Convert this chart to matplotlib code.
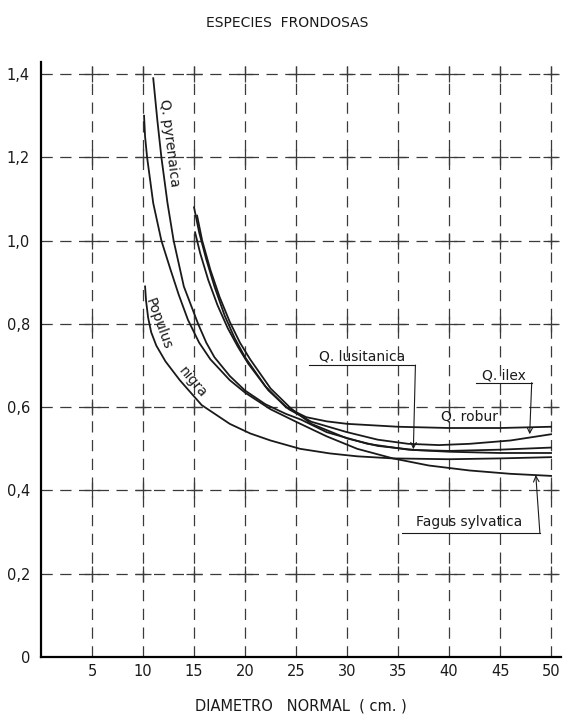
import matplotlib
matplotlib.use("Agg")
import matplotlib.pyplot as plt
import numpy as np

# ── Data ──────────────────────────────────────────────────────────────────────
x_ticks = [5, 10, 15, 20, 25, 30, 35, 40, 45, 50]
y_ticks = [0, 0.2, 0.4, 0.6, 0.8, 1.0, 1.2, 1.4]
y_tick_labels = ["0", "0,2", "0,4", "0,6", "0,8", "1,0", "1,2", "1,4"]

pyrenaica_d = [11.0, 11.4, 11.8, 12.4, 13.0, 14.0, 15.4, 16.2, 17.0, 18.5, 20.0, 22.0, 24.0, 25.5, 28.0, 32.0, 36.0, 40.0, 45.0, 50.0]
pyrenaica_v = [1.39, 1.29, 1.20, 1.09, 1.00, 0.89, 0.80, 0.755, 0.72, 0.675, 0.64, 0.607, 0.584, 0.57, 0.54, 0.512, 0.498, 0.493, 0.490, 0.490]

fagus_d = [10.1, 10.2, 10.4, 11.0, 11.8, 12.7, 13.5, 14.4, 15.5, 16.6, 18.5, 20.0, 22.5, 25.0, 28.0, 31.0, 34.5, 38.0, 42.0, 46.0, 50.0]
fagus_v = [1.30, 1.25, 1.20, 1.09, 1.00, 0.93, 0.87, 0.81, 0.755, 0.715, 0.665, 0.635, 0.595, 0.565, 0.53, 0.50, 0.477, 0.46, 0.448, 0.44, 0.435]

populus_d = [10.2, 10.3, 10.5, 10.8, 11.3, 12.2, 13.6, 15.75, 18.5, 20.5, 22.5, 25.4, 28.3, 31.0, 34.5, 40.0, 45.0, 50.0]
populus_v = [0.89, 0.855, 0.815, 0.78, 0.748, 0.71, 0.665, 0.605, 0.56, 0.537, 0.52, 0.50, 0.489, 0.482, 0.477, 0.475, 0.477, 0.48]

robur_d = [15.0, 15.5, 16.2, 17.0, 18.0, 19.0, 20.0, 22.0, 24.0, 26.0, 28.0, 30.0, 35.0, 40.0, 45.0, 50.0]
robur_v = [1.08, 1.02, 0.955, 0.89, 0.82, 0.765, 0.72, 0.65, 0.60, 0.576, 0.566, 0.560, 0.553, 0.550, 0.550, 0.553]

ilex_d = [15.1, 15.6, 16.4, 17.3, 18.3, 19.3, 20.3, 22.3, 24.3, 26.5, 30.0, 33.0, 36.0, 39.0, 42.0, 46.0, 50.0]
ilex_v = [1.02, 0.97, 0.905, 0.845, 0.79, 0.745, 0.705, 0.64, 0.595, 0.565, 0.54, 0.522, 0.512, 0.509, 0.512, 0.520, 0.535]

lusitanica_d = [15.3, 15.8, 16.6, 17.5, 18.5, 19.5, 20.5, 22.5, 24.5, 26.5, 30.0, 33.0, 36.7, 40.0, 45.0, 50.0]
lusitanica_v = [1.06, 1.00, 0.93, 0.865, 0.805, 0.755, 0.715, 0.645, 0.597, 0.56, 0.525, 0.507, 0.497, 0.495, 0.498, 0.503]

INK = "#1a1a1a"
GRID = "#3a3a3a"
FONT = "DejaVu Sans"


def main():
    fig = plt.figure(figsize=(5.68, 7.22), dpi=100)
    ax = fig.add_axes([0.0722, 0.09, 0.916, 0.8247])
    ax.set_xlim(0, 51)
    ax.set_ylim(0, 1.43)

    # dashed grid with small crosses at every intersection
    for xv in x_ticks:
        ax.plot([xv, xv], [0, 1.42], color=GRID, lw=0.9, dashes=(9, 6), zorder=1)
    for yv in y_ticks[1:]:
        ax.plot([0, 50.6], [yv, yv], color=GRID, lw=0.9, dashes=(9, 6), zorder=1)
    gx, gy = np.meshgrid(x_ticks, y_ticks[1:])
    ax.plot(gx.ravel(), gy.ravel(), ls="none", marker="+", ms=11, mew=0.9,
            color=GRID, zorder=1)

    # curves
    for d, v in [(pyrenaica_d, pyrenaica_v), (fagus_d, fagus_v),
                 (populus_d, populus_v), (robur_d, robur_v),
                 (ilex_d, ilex_v), (lusitanica_d, lusitanica_v)]:
        ax.plot(d, v, color=INK, lw=1.3, zorder=3, solid_joinstyle="round")

    # axes
    for s in ["top", "right"]:
        ax.spines[s].set_visible(False)
    ax.spines["left"].set_linewidth(1.6)
    ax.spines["bottom"].set_linewidth(1.6)
    ax.set_xticks(x_ticks)
    ax.set_xticklabels([str(t) for t in x_ticks], fontsize=10.5, family=FONT)
    ax.set_yticks(y_ticks)
    ax.set_yticklabels(y_tick_labels, fontsize=10.5, family=FONT)
    ax.tick_params(axis="x", length=0, pad=5, colors=INK)
    ax.tick_params(axis="y", length=0, pad=8, colors=INK)

    ax.set_xlabel("DIAMETRO   NORMAL  ( cm. )", fontsize=10.5, family=FONT,
                  labelpad=14, color=INK)
    fig.text(0.505, 0.968, "ESPECIES  FRONDOSAS", ha="center", va="center",
             fontsize=10, family=FONT, color=INK)

    # curve labels
    tk = dict(fontsize=10, family=FONT, color=INK, ha="center", va="center")
    ax.text(12.55, 1.235, "Q. pyrenaica", rotation=-83, **tk)
    ax.text(11.5, 0.80, "Populus", rotation=-70, **tk)
    ax.text(14.9, 0.66, "nigra", rotation=-50, **tk)
    ax.text(42.0, 0.578, "Q. robur", **tk)

    # Q. lusitanica with leader
    ax.text(31.5, 0.722, "Q. lusitanica", **tk)
    ax.plot([26.3, 36.7], [0.701, 0.701], color=INK, lw=0.8)
    ax.annotate("", xy=(36.5, 0.499), xytext=(36.7, 0.701),
                arrowprops=dict(arrowstyle="->", color=INK, lw=0.8,
                                shrinkA=0, shrinkB=0))

    # Q. ilex with leader
    ax.text(45.4, 0.676, "Q. ilex", **tk)
    ax.plot([42.6, 48.1], [0.659, 0.659], color=INK, lw=0.8)
    ax.annotate("", xy=(47.9, 0.535), xytext=(48.1, 0.659),
                arrowprops=dict(arrowstyle="->", color=INK, lw=0.8,
                                shrinkA=0, shrinkB=0))

    # Fagus sylvatica with bracket leader
    ax.text(42.0, 0.325, "Fagus sylvatica", **tk)
    ax.plot([35.4, 48.9], [0.298, 0.298], color=INK, lw=0.8)
    ax.annotate("", xy=(48.5, 0.437), xytext=(48.9, 0.298),
                arrowprops=dict(arrowstyle="->", color=INK, lw=0.8,
                                shrinkA=0, shrinkB=0))

    fig.savefig("out.png", dpi=100, facecolor="white")
    plt.close(fig)


if __name__ == "__main__":
    main()
